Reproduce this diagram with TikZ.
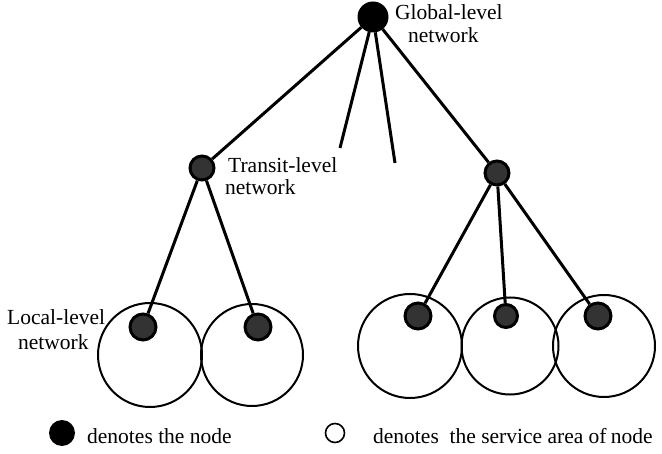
\documentclass[tikz,border=0pt]{standalone}
\usepackage{fontspec}
\setmainfont{Liberation Serif}
\begin{document}
\begin{tikzpicture}[x=1pt,y=-1pt,
  txt/.style={inner sep=0pt,anchor=base west,font=\fontsize{21.5}{24}\selectfont},
  link/.style={line width=3pt},
  gnode/.style={circle,fill=black,draw=black,line width=1pt,minimum size=30pt,inner sep=0pt},
  tnode/.style={circle,fill=black!80,draw=black,line width=3pt,minimum size=24pt,inner sep=0pt},
  area/.style={draw=black,line width=2pt}]
\useasboundingbox (0,0) rectangle (662,454);

% service areas of the local-level nodes
\draw[area] (150,355) circle (52);
\draw[area] (252,355) circle (51);
\draw[area] (410,346) circle (52);
\draw[area] (510,346) circle (48.5);
\draw[area] (604,346) circle (51);

% nodes
\node[gnode] (g) at (373,17) {};
\node[tnode] (t1) at (202,168) {};
\node[tnode] (t2) at (497,173) {};
\node[tnode,minimum size=26pt] (l1) at (143,327) {};
\node[tnode,minimum size=26pt] (l2) at (258,327) {};
\node[tnode,minimum size=26pt] (r1) at (418,316) {};
\node[tnode,minimum size=23pt] (r2) at (506,316) {};
\node[tnode,minimum size=26pt] (r3) at (598,316) {};
\coordinate (s1) at (340,148);
\coordinate (s2) at (395,163);

% links
\draw[link] (g) -- (t1);
\draw[link] (g) -- (t2);
\draw[link] (g) -- (s1);
\draw[link] (g) -- (s2);
\draw[link] (t1) -- (l1);
\draw[link] (t1) -- (l2);
\draw[link] (t2) -- (r1);
\draw[link] (t2) -- (r2);
\draw[link] (t2) -- (r3);

% labels
\node[txt] (ga) at (395,20) {Global-level};
\node[txt] (gb) at (408,43) {network};
\node[txt] (ta) at (228,173) {Transit-level};
\node[txt] (tb) at (225,195) {network};
\node[txt] (la) at (7,325) {Local-level};
\node[txt] (lb) at (18,350) {network};

% legend
\node[circle,fill=black,minimum size=26pt,inner sep=0pt] (k1) at (62,433) {};
\node[txt] (k1t) at (87,444) {denotes the node};
\node[circle,draw=black,line width=1.6pt,minimum size=19pt,inner sep=0pt] (k2) at (335,433) {};
\node[txt] (k2t) at (373,444) {denotes\ \ the service area of\kern-1pt\ node};
\end{tikzpicture}
\end{document}
